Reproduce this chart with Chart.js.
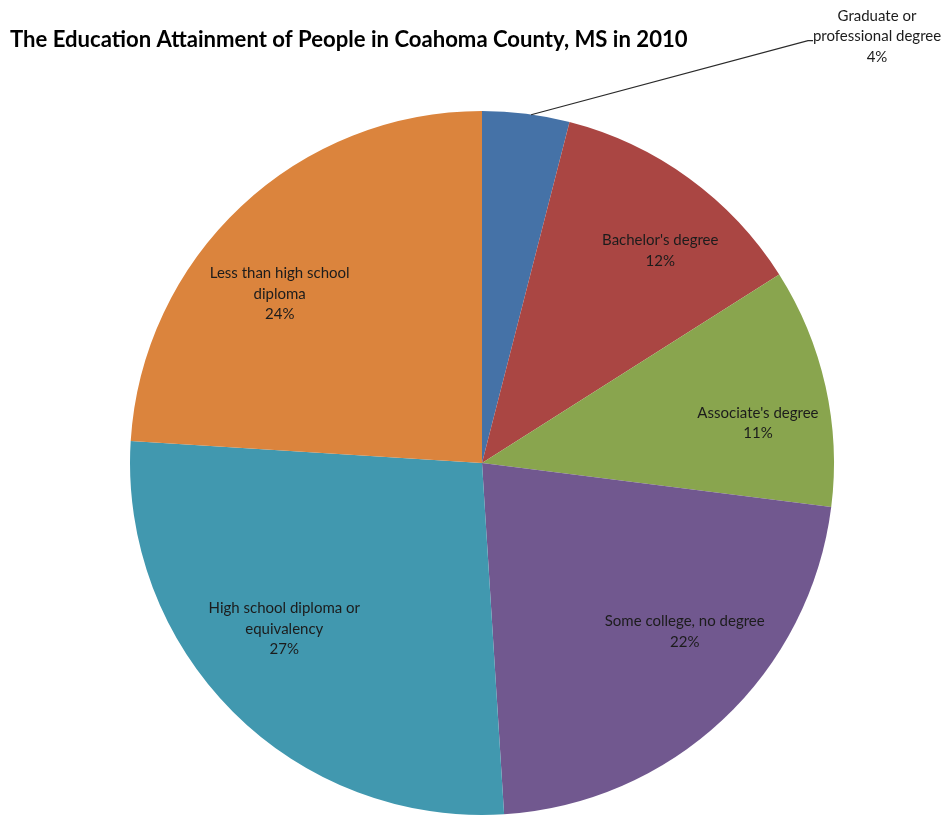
<!DOCTYPE html>
<html>
<head>
<meta charset="utf-8">
<script src="https://cdn.jsdelivr.net/npm/chart.js@4/dist/chart.umd.min.js"></script>
<style>
  html, body { margin: 0; padding: 0; background: #ffffff; }
  #wrap { width: 949px; height: 816px; }
</style>
</head>
<body>
<div id="wrap"><canvas id="c" width="949" height="816"></canvas></div>
<script>
// Educational attainment, Coahoma County, MS (2010), share of population (%)
const categories = [
  "Graduate or professional degree",
  "Bachelor's degree",
  "Associate's degree",
  "Some college, no degree",
  "High school diploma or equivalency",
  "Less than high school diploma"
];
const shares = [4, 12, 11, 22, 27, 24];
const sliceColors = ["#4572A7", "#AA4643", "#89A54E", "#71588F", "#4198AF", "#DB843D"];

// how each category name is broken over lines in its label
const labelLines = [
  ["Graduate or", "professional degree"],
  ["Bachelor's degree"],
  ["Associate's degree"],
  ["Some college, no degree"],
  ["High school diploma or", "equivalency"],
  ["Less than high school", "diploma"]
];

const chartTitle = "The Education Attainment of People in Coahoma County, MS in 2010";

// label placement: radius fraction and small nudges (px) per slice
const labelPlace = [
  { outside: true },
  { f: 0.76, dx: 21, dy: 4 },
  { f: 0.78, dx: 8, dy: 20 },
  { f: 0.75, dx: 22, dy: -24 },
  { f: 0.73, dx: -16, dy: -16 },
  { f: 0.74, dx: -24, dy: 21 }
];

const LABEL_FONT = "15px Lato, 'Open Sans', sans-serif";
const LINE_H = 20.5;

const labelPlugin = {
  id: 'sliceLabels',
  afterDraw(chart) {
    const ctx = chart.ctx;
    const meta = chart.getDatasetMeta(0);
    const total = shares.reduce((a, b) => a + b, 0);
    ctx.save();
    ctx.font = LABEL_FONT;
    ctx.fillStyle = '#1c1c1c';
    ctx.textAlign = 'center';
    ctx.textBaseline = 'middle';
    meta.data.forEach((arc, i) => {
      const p = arc.getProps(['x', 'y', 'startAngle', 'endAngle', 'outerRadius'], true);
      const mid = (p.startAngle + p.endAngle) / 2;
      const pct = Math.round(shares[i] / total * 100) + '%';
      const lines = labelLines[i].concat([pct]);
      const place = labelPlace[i];
      let cx, cy;
      if (place.outside) {
        // leader line from the arc edge out to a label in the top-right corner
        const ax = p.x + Math.cos(mid) * p.outerRadius;
        const ay = p.y + Math.sin(mid) * p.outerRadius;
        const lx = chart.width - 72;
        const ly = 16;
        const ex = lx - 69, ey = ly + LINE_H * 1.2;
        ctx.strokeStyle = '#2a2a2a';
        ctx.lineWidth = 1.2;
        ctx.beginPath();
        ctx.moveTo(ax + 5, ay + 1);
        ctx.lineTo(ex, ey);
        ctx.lineTo(ex + 5, ey);
        ctx.stroke();
        cx = lx; cy = ly;
        lines.forEach((t, k) => ctx.fillText(t, cx, cy + k * LINE_H));
        return;
      }
      const n = lines.length;
      cx = p.x + Math.cos(mid) * p.outerRadius * place.f + place.dx;
      cy = p.y + Math.sin(mid) * p.outerRadius * place.f + place.dy;
      lines.forEach((t, k) => ctx.fillText(t, cx, cy + (k - (n - 1) / 2) * LINE_H));
    });
    ctx.restore();
  }
};

const titlePlugin = {
  id: 'leftTitle',
  afterDraw(chart) {
    const ctx = chart.ctx;
    ctx.save();
    const targetW = 678;
    let size = 20;
    ctx.font = `bold ${size}px Lato, 'Open Sans', sans-serif`;
    const w = ctx.measureText(chartTitle).width;
    size = size * targetW / w;
    ctx.font = `bold ${size}px Lato, 'Open Sans', sans-serif`;
    ctx.fillStyle = '#000000';
    ctx.textAlign = 'left';
    ctx.textBaseline = 'middle';
    ctx.fillText(chartTitle, 10, 40);
    ctx.restore();
  }
};

new Chart(document.getElementById('c'), {
  type: 'pie',
  data: {
    labels: categories,
    datasets: [{
      data: shares,
      backgroundColor: sliceColors,
      borderWidth: 0,
      hoverOffset: 0
    }]
  },
  options: {
    responsive: false,
    animation: false,
    events: [],
    radius: 352,
    layout: { padding: { left: 130, right: 115, top: 111, bottom: 1 } },
    plugins: {
      legend: { display: false },
      tooltip: { enabled: false },
      title: { display: false }
    }
  },
  plugins: [titlePlugin, labelPlugin]
});
</script>
</body>
</html>
